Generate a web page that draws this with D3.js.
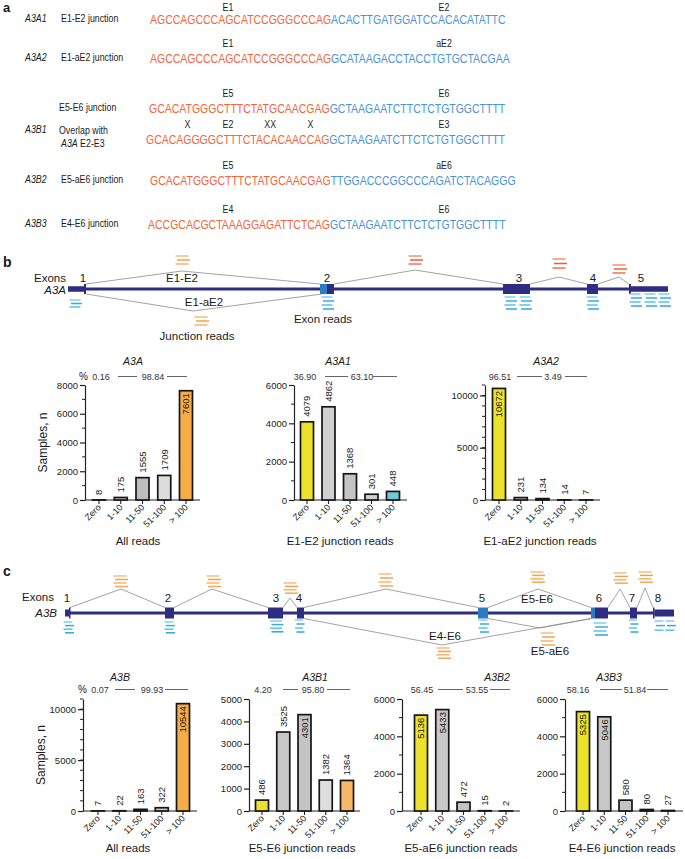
<!DOCTYPE html>
<html><head><meta charset="utf-8">
<script src="https://cdn.jsdelivr.net/npm/d3@7"></script>
<style>
body{margin:0;background:#fff;}
svg{display:block;font-family:"Liberation Sans",Arial,Helvetica,sans-serif;}
</style></head><body>
<svg id="fig" width="685" height="859"></svg>
<script>
// ================= DATA =================
// Panel a: junction sequences
const seqIsoform   = ["A3A1","A3A2","","","A3B2","A3B3"];
const seqDesc      = [["E1-E2 junction"],["E1-aE2 junction"],["E5-E6 junction"],["Overlap with","A3A E2-E3"],["E5-aE6 junction"],["E4-E6 junction"]];
const seqExonLeft  = ["E1","E1","E5","E2","E5","E4"];
const seqExonRight = ["E2","aE2","E6","E3","aE6","E6"];
const seqLeft  = ["AGCCAGCCCAGCATCCGGGCCCAG","AGCCAGCCCAGCATCCGGGCCCAG","GCACATGGGCTTTCTATGCAACGAG","GCACAGGGGCTTTCTACACAACCAG","GCACATGGGCTTTCTATGCAACGAG","ACCGCACGCTAAAGGAGATTCTCAG"];
const seqRight = ["ACACTTGATGGATCCACACATATTC","GCATAAGACCTACCTGTGCTACGAA","GCTAAGAATCTTCTCTGTGGCTTTT","GCTAAGAATCTTCTCTGTGGCTTTT","TTGGACCCGGCCCAGATCTACAGGG","GCTAAGAATCTTCTCTGTGGCTTTT"];

// Bar charts
const readBins = ["Zero","1-10","11-50","51-100","> 100"];
const valA3A  = [8,175,1555,1709,7601];
const valA3A1 = [4079,4862,1368,301,448];
const valA3A2 = [10672,231,134,14,7];
const valA3B  = [7,22,163,322,10544];
const valA3B1 = [486,3525,4301,1382,1364];
const valA3B2 = [5136,5433,472,15,2];
const valA3B3 = [5325,5046,580,80,27];
const pctA3A  = ["0.16","98.84"];
const pctA3A1 = ["36.90","63.10"];
const pctA3A2 = ["96.51","3.49"];
const pctA3B  = ["0.07","99.93"];
const pctA3B1 = ["4.20","95.80"];
const pctA3B2 = ["56.45","53.55"];
const pctA3B3 = ["58.16","51.84"];

// Gene models (schematic units along gene)
const a3aSegments = [[0,16,"utr"],[16,18,"cds"],[252,259,"alt"],[259,266,"cds"],[435,462,"cds"],[519,530,"cds"],[561,563,"cds"],[563,600,"utr"]];
const a3aExonNames = ["1","2","3","4","5"];
const a3aExonLabelPos = [15,259,451,525,573];
const a3aJunctionNames = ["E1-E2","","","","E1-aE2"];
const a3aJunctions = [[18,114,252],[266,347,435],[462,491,519],[530,551,561],[18,125,254]];
const a3bSegments = [[0,4,"utr"],[4,5.5,"cds"],[100,109,"cds"],[203,218,"cds"],[232,239,"cds"],[413,423,"alt"],[526,530,"alt"],[530,543,"cds"],[565,572,"cds"],[588,589.5,"cds"],[589.5,609,"utr"]];
const a3bExonNames = ["1","2","3","4","5","6","7","8"];
const a3bExonLabelPos = [2,103,211,234,417,534,567,593];
const a3bJunctionNames = ["","","","","E5-E6","","","E4-E6","E5-aE6"];
const a3bJunctions = [[5,56,100],[109,147,203],[218,225,232],[239,321,413],[423,473,526],[543,555,565],[572,580,588],[239,377,526],[423,475,527]];

// ================= DRAWING =================
const svg = d3.select("#fig");
const INK = "#1a1a1a";

function T(parent, x, y, s, o = {}) {
  const sx = o.sx || 1;
  const t = parent.append("text")
    .attr("transform", `translate(${x},${y}) scale(${sx},1)`)
    .attr("font-size", o.size || 11).attr("fill", o.fill || INK).text(s);
  if (o.anchor) t.attr("text-anchor", o.anchor);
  if (o.italic) t.attr("font-style", "italic");
  if (o.bold) t.attr("font-weight", "bold");
  return t;
}

// ---------- Panel a ----------
const SX = 0.84, RED = "#f2643a", BLUE = "#4b93d3";
T(svg, 3, 12, "a", {size: 13, bold: true});
const rowY = [24, 63, 113, 144, 185, 229];
const seqX = [150, 150, 149, 146, 150, 148];
const seqTexts = [];
seqLeft.forEach((L, i) => {
  const y = rowY[i];
  const t = svg.append("text").attr("transform", `translate(${seqX[i]},${y}) scale(${SX},1)`).attr("font-size", 12.5);
  t.append("tspan").attr("fill", RED).text(L);
  t.append("tspan").attr("fill", BLUE).text(seqRight[i]);
  seqTexts.push(t);
  const ey = Math.max(y - 16, 10.5);
  T(svg, 228, ey, seqExonLeft[i], {size: 10.5, sx: SX, anchor: "middle"});
  T(svg, 444, ey, seqExonRight[i], {size: 10.5, sx: SX, anchor: "middle"});
  if (seqIsoform[i]) T(svg, 25, y - 2, seqIsoform[i], {size: 10.5, sx: SX, italic: true});
  const d = seqDesc[i];
  if (d.length === 1) T(svg, i === 2 ? 59 : 61, y - 2, d[0], {size: 10.5, sx: SX});
  else {
    T(svg, 59, y - 10, d[0], {size: 10.5, sx: SX});
    const t2 = T(svg, 61, y + 3, "", {size: 10.5, sx: SX});
    const parts = d[1].split(" ");
    t2.append("tspan").attr("font-style", "italic").text(parts[0]);
    t2.append("tspan").text(" " + parts.slice(1).join(" "));
  }
});
T(svg, 25, 133, "A3B1", {size: 10.5, sx: SX, italic: true});
// mismatches between row 3 and row 4 (A3B1 vs A3A E2-E3)
(function(){
  const a = seqLeft[2], b = seqLeft[3];
  const mm = [];
  for (let k = 0; k < b.length; k++) if (a[k] !== b[k]) mm.push(k);
  const groups = [];
  mm.forEach(k => { const g = groups[groups.length-1]; if (g && g[g.length-1] === k-1) g.push(k); else groups.push([k]); });
  const node = seqTexts[3].node();
  groups.forEach(g => {
    const s = node.getSubStringLength(0, g[0]);
    const w = node.getSubStringLength(g[0], g.length);
    T(svg, seqX[3] + SX * (s + w / 2), rowY[3] - 16, "X".repeat(g.length), {size: 10.5, sx: SX, anchor: "middle"});
  });
})();

// ---------- Gene diagrams ----------
const NAVY = "#2f2d82", ALT = "#2a7dc2", JL = "#8c8c8c";
const ORG = ["#f9bd7c","#f6a04c","#f8b46a","#f5a85a"], REDR = ["#f68f74","#ef5b3a","#f2704f","#ef6446"], BLU = ["#7fd0f0","#34ade3","#5cc0ec","#2ea6df"];
function dashes(g, cx, y0, n, gap, w, pal, sw) {
  for (let k = 0; k < n; k++) {
    const off = (k % 2) ? 1.5 : 0;
    g.append("line").attr("x1", cx - w/2 + off).attr("x2", cx + w/2 + off)
      .attr("y1", y0 + k*gap).attr("y2", y0 + k*gap)
      .attr("stroke", pal[k % pal.length]).attr("stroke-width", sw || 1.5);
  }
}
function gene(c) {
  const g = svg.append("g");
  const xs = d3.scaleLinear().domain([0, c.len]).range([c.x0, c.x0 + c.len]);
  const cy = c.cy, H = c.h, h = c.hu;
  g.append("line").attr("x1", xs(c.segs[0][1])).attr("x2", xs(c.segs[c.segs.length-1][0]))
    .attr("y1", cy).attr("y2", cy).attr("stroke", NAVY).attr("stroke-width", 3);
  c.segs.forEach(s => {
    const hh = s[2] === "utr" ? h : H;
    g.append("rect").attr("x", xs(s[0])).attr("width", xs(s[1]) - xs(s[0]))
      .attr("y", cy - hh/2).attr("height", hh).attr("fill", s[2] === "alt" ? ALT : NAVY);
  });
  c.juncs.forEach((j, i) => {
    const top = c.jside[i] < 0;
    const yE = top ? cy - H/2 : cy + H/2;
    g.append("polyline").attr("points", [[xs(j[0]), yE], [xs(j[1]), cy + c.jside[i]], [xs(j[2]), yE]].map(p => p.join(",")).join(" "))
      .attr("fill", "none").attr("stroke", JL).attr("stroke-width", 0.8);
    const nm = c.jnames[i];
    if (nm) T(g, xs(c.jlab[i][0]), c.jlab[i][1], nm, {size: 11.5, anchor: "middle"});
  });
  c.exonNames.forEach((n, i) => T(g, xs(c.exonPos[i]), c.numY, n, {size: 11.5, anchor: "middle"}));
  c.jreads.forEach(r => dashes(g, xs(r[0]), r[1], r[2], r[3], 13, r[4]));
  c.ereads.forEach(r => dashes(g, xs(r[0]), r[1], r[2], r[3], r[4] || 11, BLU));
  return g;
}

// Panel b gene
T(svg, 3, 267, "b", {size: 14, bold: true});
T(svg, 34, 282, "Exons", {size: 11.5});
T(svg, 66, 294, "A3A", {size: 11.5, italic: true, anchor: "end"});
gene({
  len: 600, x0: 68, cy: 289, h: 10, hu: 5.5, segs: a3aSegments,
  juncs: a3aJunctions, jside: [-18, -19, -12, -12, 22], jnames: a3aJunctionNames,
  jlab: [[114, 282], [0,0],[0,0],[0,0],[136, 306]],
  exonNames: a3aExonNames, exonPos: a3aExonLabelPos, numY: 282,
  jreads: [[114, 256, 3, 4, ORG], [347, 256, 3, 4, REDR], [491, 259, 3, 4.5, REDR], [551, 265, 3, 4, REDR], [133, 317, 3, 4, ORG]],
  ereads: [[7, 300, 3, 3.5], [259, 297, 4, 4], [442, 297, 4, 4], [457, 297, 4, 4], [524, 297, 4, 4], [567, 294, 4, 4], [582, 294, 4, 4], [596, 294, 4, 4]]
});
T(svg, 323, 323, "Exon reads", {size: 11.5, anchor: "middle"});
T(svg, 197, 340, "Junction reads", {size: 11.5, anchor: "middle"});

// Panel c gene
T(svg, 3, 576, "c", {size: 14, bold: true});
T(svg, 22, 601, "Exons", {size: 11.5});
T(svg, 57, 617, "A3B", {size: 11.5, italic: true, anchor: "end"});
gene({
  len: 610, x0: 65, cy: 613, h: 11, hu: 7, segs: a3bSegments,
  juncs: a3bJunctions, jside: [-24, -24, -15, -24, -24, -24, -25, 32, 15], jnames: a3bJunctionNames,
  jlab: [[0,0],[0,0],[0,0],[0,0],[472, 603],[0,0],[0,0],[380, 640],[485, 655]],
  exonNames: a3bExonNames, exonPos: a3bExonLabelPos, numY: 602,
  jreads: [[55, 576, 4, 3.5, ORG], [148, 576, 4, 3.5, ORG], [225, 583, 4, 3.4, ORG], [320, 574, 4, 4, ORG], [472, 572, 4, 3.4, ORG], [555, 573, 4, 3.4, ORG], [580, 572, 4, 3.4, ORG], [378, 648, 4, 3.4, ORG], [482, 633, 4, 4, ORG]],
  ereads: [[3, 622, 4, 3.6, 9], [104, 622, 4, 3.6, 9], [211, 621, 4, 3.6, 12], [234, 620, 4, 4, 8], [418, 620, 4, 4, 9], [535, 623, 4, 4, 13], [568, 620, 4, 4, 8], [594, 621, 3, 4.6, 9], [605, 621, 3, 4.6, 9]]
});

// ---------- Bar charts ----------
const YEL = "#ece22c", ORA = "#f6ad47", CYA = "#6ec8d6";
function barChart(c) {
  const g = svg.append("g");
  const x = d3.scalePoint().domain(readBins).range([c.c0, c.c1]);
  const y = d3.scaleLinear().domain([0, c.ymax]).range([c.bottom, c.top]);
  const bw = 13;
  g.append("g").selectAll("line").data(c.minor).join("line")
    .attr("x1", c.ax - 3).attr("x2", c.ax).attr("y1", d => y(d)).attr("y2", d => y(d))
    .attr("stroke", "#222").attr("stroke-width", 1);
  const ya = g.append("g").attr("transform", `translate(${c.ax},0)`)
    .call(d3.axisLeft(y).tickValues(c.ticks).tickSize(5).tickSizeOuter(0).tickPadding(2).tickFormat(d3.format("d")));
  ya.attr("font-family", null).attr("font-size", null);
  ya.selectAll("text").attr("font-size", 9.5).attr("fill", "#222");
  ya.selectAll("line,path").attr("stroke", "#222").attr("stroke-width", 1.2);
  g.append("line").attr("x1", c.ax).attr("x2", c.axEnd).attr("y1", c.bottom).attr("y2", c.bottom)
    .attr("stroke", "#222").attr("stroke-width", 1.2);
  g.selectAll(".xt").data(readBins).join("line")
    .attr("x1", d => x(d)).attr("x2", d => x(d)).attr("y1", c.bottom).attr("y2", c.bottom + 4)
    .attr("stroke", "#222").attr("stroke-width", 1.1);
  g.selectAll(".xl").data(readBins).join("text")
    .attr("transform", d => `translate(${x(d) + 2.5},${c.bottom + 8}) rotate(-45)`)
    .attr("text-anchor", "end").attr("font-size", 9).attr("fill", "#222").text(d => d);
  g.selectAll(".bar").data(c.values).join("rect")
    .attr("x", (d, i) => x(readBins[i]) - bw / 2).attr("y", d => y(d))
    .attr("width", bw).attr("height", d => c.bottom - y(d))
    .attr("fill", (d, i) => c.colors[i]).attr("stroke", "#161616").attr("stroke-width", 1.7);
  c.values.forEach((v, i) => {
    const cx = x(readBins[i]) + 3.4, ty = y(v);
    const t = g.append("text").attr("font-size", 9.5).attr("fill", "#1a1a1a").text(v);
    const len = t.node().getComputedTextLength();
    if (ty - 5 - len < c.top - 6) t.attr("text-anchor", "end").attr("transform", `translate(${cx},${ty + 2.5}) rotate(-90)`);
    else t.attr("text-anchor", "start").attr("transform", `translate(${cx},${ty - 5}) rotate(-90)`);
  });
  T(g, c.titleX, c.titleY, c.title, {size: 10.5, italic: true, anchor: "middle"});
  const p = c.pctX, py = c.pctY;
  if (c.showPct) T(g, p[0] - 22, py, "%", {size: 10});
  T(g, p[0], py, c.pct[0], {size: 9, anchor: "middle", fill: "#333"});
  T(g, p[3], py, c.pct[1], {size: 9, anchor: "middle", fill: "#333"});
  [[p[1], p[2]], [p[4], p[5]]].forEach(l => g.append("line").attr("x1", l[0]).attr("x2", l[1])
    .attr("y1", py - 3.5).attr("y2", py - 3.5).attr("stroke", "#555").attr("stroke-width", 0.9));
  T(g, c.xtX, c.xtY, c.xTitle, {size: 11.5, anchor: "middle"});
  if (c.yTitle) g.append("text").attr("transform", `translate(${c.ax - 38},${(c.top + c.bottom) / 2}) rotate(-90)`)
    .attr("text-anchor", "middle").attr("font-size", 12).attr("fill", INK).text(c.yTitle);
}
const k1 = d3.range(1000, 11001, 1000);
const rowB = {top: 385, bottom: 500, titleY: 365, pctY: 380, xtY: 545};
const rowC = {top: 699, bottom: 811, titleY: 681, pctY: 693, xtY: 852};
barChart({...rowB, values: valA3A, colors: [YEL, "#c8c8c8", "#bebebe", "#dcdcdc", ORA], ymax: 8000, ticks: [0,2000,4000,6000,8000], minor: [1000,3000,5000,7000],
  ax: 85, axEnd: 200, c0: 99, c1: 186, title: "A3A", titleX: 133, pct: pctA3A, pctX: [101,118,137,153,167,187], showPct: true, xTitle: "All reads", xtX: 138, yTitle: "Samples, n"});
barChart({...rowB, values: valA3A1, colors: [YEL, "#d0d0d0", "#c4c4c4", "#cfcfcf", CYA], ymax: 6000, ticks: [0,2000,4000,6000], minor: [1000,3000,5000],
  ax: 294, axEnd: 407, c0: 307, c1: 393, title: "A3A1", titleX: 338, pct: pctA3A1, pctX: [305,325,348,362,373,397], xTitle: "E1-E2 junction reads", xtX: 340});
barChart({...rowB, values: valA3A2, colors: [YEL, "#c8c8c8", "#c8c8c8", "#c8c8c8", CYA], ymax: 11000, ticks: [0,5000,10000], minor: k1,
  ax: 485, axEnd: 600, c0: 499, c1: 586, title: "A3A2", titleX: 546, pct: pctA3A2, pctX: [500,517,542,553,565,587], xTitle: "E1-aE2 junction reads", xtX: 540});
barChart({...rowC, values: valA3B, colors: [YEL, "#c8c8c8", "#bebebe", "#c8c8c8", ORA], ymax: 11000, ticks: [0,5000,10000], minor: k1,
  ax: 83, axEnd: 197, c0: 98, c1: 183, title: "A3B", titleX: 120, pct: pctA3B, pctX: [100,115,135,152,165,188], showPct: true, xTitle: "All reads", xtX: 128, yTitle: "Samples, n"});
barChart({...rowC, values: valA3B1, colors: [YEL, "#c8c8c8", "#c4c4c4", "#dedede", "#f8b766"], ymax: 5000, ticks: [0,1000,2000,3000,4000,5000], minor: [],
  ax: 249, axEnd: 360, c0: 262, c1: 347, title: "A3B1", titleX: 315, pct: pctA3B1, pctX: [263,283,298,313,327,350], xTitle: "E5-E6 junction reads", xtX: 302});
barChart({...rowC, values: valA3B2, colors: [YEL, "#c8c8c8", "#c4c4c4", "#c8c8c8", "#c8c8c8"], ymax: 6000, ticks: [0,2000,4000,6000], minor: [1000,3000,5000],
  ax: 402, axEnd: 520, c0: 421, c1: 506, title: "A3B2", titleX: 497, pct: pctA3B2, pctX: [422,438,463,477,490,510], xTitle: "E5-aE6 junction reads", xtX: 461});
barChart({...rowC, values: valA3B3, colors: [YEL, "#c8c8c8", "#c4c4c4", "#c8c8c8", "#c8c8c8"], ymax: 6000, ticks: [0,2000,4000,6000], minor: [1000,3000,5000],
  ax: 565, axEnd: 683, c0: 583, c1: 668, title: "A3B3", titleX: 609, pct: pctA3B3, pctX: [578,600,622,635,647,668], xTitle: "E4-E6 junction reads", xtX: 622});
</script>
</body></html>
